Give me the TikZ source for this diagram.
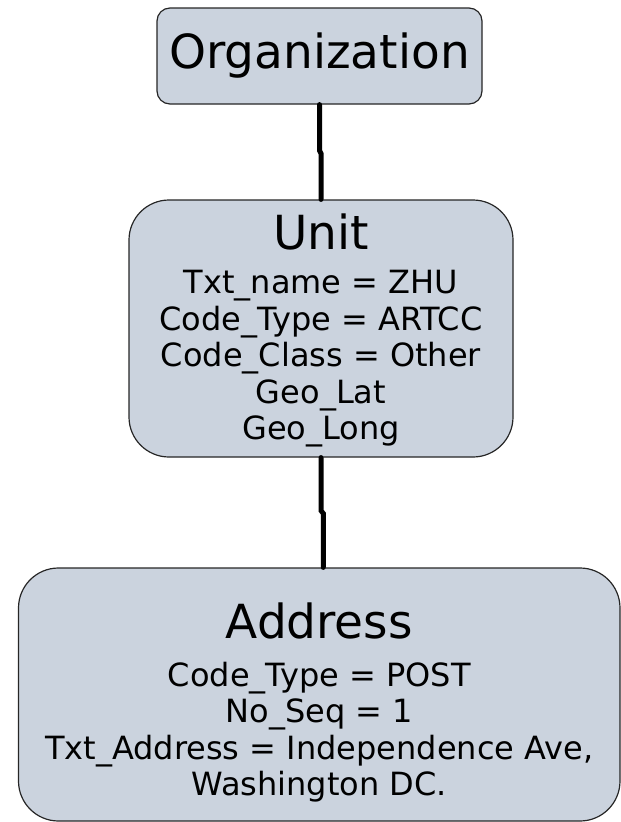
\documentclass[tikz,border=0pt]{standalone}
\usepackage{fontspec}
\setmainfont{DejaVu Sans}
\usepackage{xcolor}
\usepackage{tikz}

\definecolor{boxfill}{RGB}{203,211,222}
\newcommand{\titlesize}{\fontsize{47}{50}\selectfont}
\newcommand{\attrsize}{\fontsize{32}{36.5}\selectfont}

\begin{document}
\begin{tikzpicture}[x=1pt,y=1pt,
  entity/.style={rectangle,draw=black!85,line width=1.2pt,fill=boxfill,rounded corners=40pt,align=center,inner sep=0pt,font=\attrsize},
  link/.style={draw=black,line width=5pt,line cap=round}]

    % Page frame
	\useasboundingbox (0,0) rectangle (621,-822);

    % The boxes
	\node [entity,rounded corners=13pt,minimum width=325pt,minimum height=96pt,font=\titlesize] at (319.5,-56) (org) {Organization};
	\node [entity,minimum width=384pt,minimum height=257pt] at (321,-328.5) (unit) {{\titlesize\rule{0pt}{39.7pt}Unit}\\[8pt]
		Txt\_name = ZHU\\ Code\_Type = ARTCC\\ Code\_Class = Other\\ Geo\_Lat\\ Geo\_Long};
	\node [entity,minimum width=601.5pt,minimum height=253pt] at (319.25,-694.5) (addr) {{\titlesize\rule{0pt}{51.7pt}Address}\\[11pt]
		Code\_Type = POST\\ No\_Seq = 1\\ Txt\_Address = Independence Ave,\\ Washington DC.};

	% Box links
	\draw[link] (org.south) -- ++(0,-46) -- ([yshift=46pt]unit.north) -- (unit.north);
	\draw[link] (unit.south) -- ++(0,-53) -- ([xshift=4pt,yshift=54pt]addr.north) -- ([xshift=4pt]addr.north);

\end{tikzpicture}
\end{document}
